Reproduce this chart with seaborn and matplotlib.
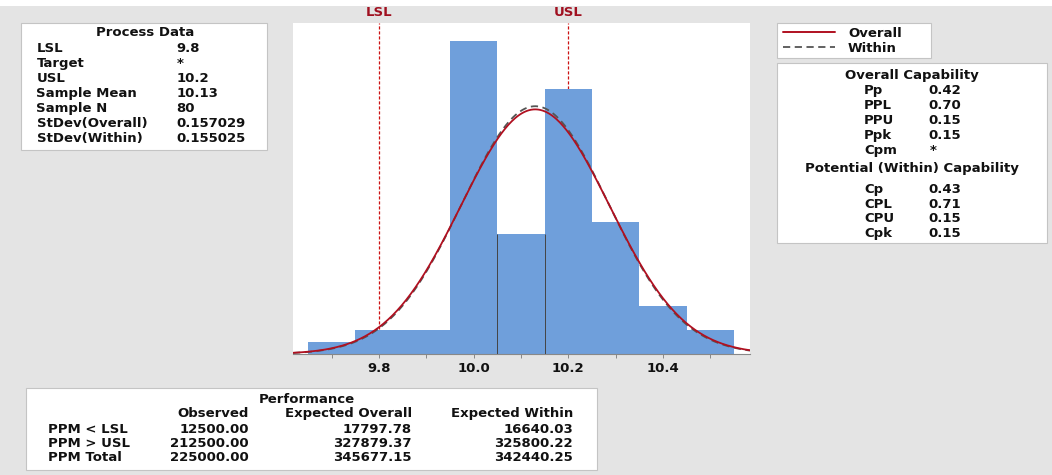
import numpy as np
import pandas as pd
import matplotlib
matplotlib.use("Agg")
import matplotlib.pyplot as plt
from matplotlib.patches import Rectangle
from matplotlib.lines import Line2D
import seaborn as sns

# ---------------- data ----------------
values = [9.7, 9.8, 9.9, 10.0, 10.1, 10.2, 10.3, 10.4, 10.5]
counts = [1, 2, 2, 26, 10, 22, 11, 4, 2]
bin_edges = [9.65, 9.75, 9.85, 9.95, 10.05, 10.15, 10.25, 10.35, 10.45, 10.55]
lsl, usl = 9.8, 10.2
mean = 10.13
sd_overall = 0.157029
sd_within = 0.155025
n_obs = 80
xticks = [9.8, 10.0, 10.2, 10.4]

process_labels = ["LSL", "Target", "USL", "Sample Mean", "Sample N", "StDev(Overall)", "StDev(Within)"]
process_values = ["9.8", "*", "10.2", "10.13", "80", "0.157029", "0.155025"]

overall_labels = ["Pp", "PPL", "PPU", "Ppk", "Cpm"]
overall_values = ["0.42", "0.70", "0.15", "0.15", "*"]
within_labels = ["Cp", "CPL", "CPU", "Cpk"]
within_values = ["0.43", "0.71", "0.15", "0.15"]

perf_rows = ["PPM < LSL", "PPM > USL", "PPM Total"]
perf_cols = ["Observed", "Expected Overall", "Expected Within"]
perf_observed = ["12500.00", "212500.00", "225000.00"]
perf_exp_overall = ["17797.78", "327879.37", "345677.15"]
perf_exp_within = ["16640.03", "325800.22", "342440.25"]

# ---------------- style ----------------
sns.set_theme(style="white")
plt.rcParams["font.family"] = ["DejaVu Sans"]
plt.rcParams["font.weight"] = "bold"

W, H = 1052, 475
fig = plt.figure(figsize=(W / 100, H / 100), dpi=100)
fig.patch.set_facecolor("#e4e4e4")

def fx(x):
    return x / W

def fy(y):
    return 1 - y / H

# white strip on top
fig.patches.append(Rectangle((0, fy(6)), 1, 6 / H, transform=fig.transFigure,
                             facecolor="white", edgecolor="none", zorder=0))

# ---------------- histogram ----------------
ax_l, ax_r, ax_t, ax_b = 293, 750, 23, 354
ax = fig.add_axes([fx(ax_l), fy(ax_b), (ax_r - ax_l) / W, (ax_b - ax_t) / H])
ax.set_facecolor("white")

bar_color = "#6f9fdb"
df = pd.DataFrame({"value": values, "count": counts})

# spec lines (behind bars)
for v in (lsl, usl):
    ax.axvline(v, color="#cc1111", ls=(0, (2.5, 1.5)), lw=0.9, zorder=1)

sns.histplot(data=df, x="value", weights="count", bins=bin_edges, stat="count",
             color=bar_color, alpha=1.0, edgecolor="none", linewidth=0, ax=ax, zorder=2)

# dark edges on the middle bar
mid = 4
ax.vlines([bin_edges[mid], bin_edges[mid + 1]], 0, counts[mid], color="#444444", lw=0.7, zorder=3)

xmin, xmax = 9.618, 10.584
xs = np.linspace(xmin, xmax, 400)
bw = bin_edges[1] - bin_edges[0]

def npdf(x, m, s):
    return np.exp(-0.5 * ((x - m) / s) ** 2) / (s * np.sqrt(2 * np.pi))

curve = pd.DataFrame({"x": xs,
                      "within": n_obs * bw * npdf(xs, mean, sd_within),
                      "overall": n_obs * bw * npdf(xs, mean, sd_overall)})
sns.lineplot(data=curve, x="x", y="within", ax=ax, color="#555555", lw=1.3,
             ls=(0, (4, 2.5)), zorder=4)
sns.lineplot(data=curve, x="x", y="overall", ax=ax, color="#b01020", lw=1.3, zorder=5)

ax.set_xlim(xmin, xmax)
ax.set_ylim(0, 27.5)
ax.set_xlabel("")
ax.set_ylabel("")
ax.set_yticks([])
ax.set_xticks(xticks)
ax.set_xticklabels([f"{t:.1f}" for t in xticks], fontsize=9.5, fontweight="bold", color="#111111")
ax.set_xticks(np.arange(9.7, 10.55, 0.2), minor=True)
ax.tick_params(axis="x", which="both", bottom=True, length=3, width=0.7, color="#888888",
               direction="out", pad=3)
for s in ("top", "left", "right"):
    ax.spines[s].set_visible(False)
ax.spines["bottom"].set_color("#888888")
ax.spines["bottom"].set_linewidth(0.8)

# LSL / USL labels
for v, lab in ((lsl, "LSL"), (usl, "USL")):
    ax.text(v, 1.0 + 4 / (ax_b - ax_t), lab, transform=ax.get_xaxis_transform(),
            ha="center", va="bottom", fontsize=9.5, fontweight="bold", color="#a01020")

# ---------------- text boxes ----------------
def box(x0, y0, x1, y1):
    fig.patches.append(Rectangle((fx(x0), fy(y1)), (x1 - x0) / W, (y1 - y0) / H,
                                 transform=fig.transFigure, facecolor="white",
                                 edgecolor="#c4c4c4", lw=0.8, zorder=1))

FS = 9.5

def txt(x, y, s, ha="left"):
    fig.text(fx(x), fy(y + 4.8), s, ha=ha, va="baseline", fontsize=FS,
             fontweight="bold", color="#111111")

# Process data
box(21, 23, 267, 150)
txt(145, 31.5, "Process Data", ha="center")
for i, (l, v) in enumerate(zip(process_labels, process_values)):
    y = 47 + 15 * i
    txt(36.5, y, l)
    txt(176.5, y, v)

# Legend
box(777, 23, 931, 58)
fig.lines.append(Line2D([fx(783), fx(835)], [fy(32), fy(32)], transform=fig.transFigure,
                        color="#b01020", lw=1.4))
fig.lines.append(Line2D([fx(783), fx(835)], [fy(47), fy(47)], transform=fig.transFigure,
                        color="#555555", lw=1.3, ls=(0, (4, 2.5))))
txt(848, 32, "Overall")
txt(848, 47, "Within")

# Capability
box(777, 63, 1047, 243)
txt(912, 74, "Overall Capability", ha="center")
for i, (l, v) in enumerate(zip(overall_labels, overall_values)):
    y = 89 + 15 * i
    txt(864, y, l)
    txt(928 if v != "*" else 930, y, v)
txt(912, 167, "Potential (Within) Capability", ha="center")
for i, (l, v) in enumerate(zip(within_labels, within_values)):
    y = 188 + 14.8 * i
    txt(864, y, l)
    txt(928, y, v)

# Performance
box(26, 388, 597, 470)
txt(307, 398, "Performance", ha="center")
col_right = [249, 412, 573]
for c, name in zip(col_right, perf_cols):
    txt(c, 412.5, name, ha="right")
for i, r in enumerate(perf_rows):
    y = 428 + 14 * i
    txt(48.5, y, r)
    txt(col_right[0], y, perf_observed[i], ha="right")
    txt(col_right[1], y, perf_exp_overall[i], ha="right")
    txt(col_right[2], y, perf_exp_within[i], ha="right")

fig.savefig("out.png", dpi=100, facecolor=fig.get_facecolor())
